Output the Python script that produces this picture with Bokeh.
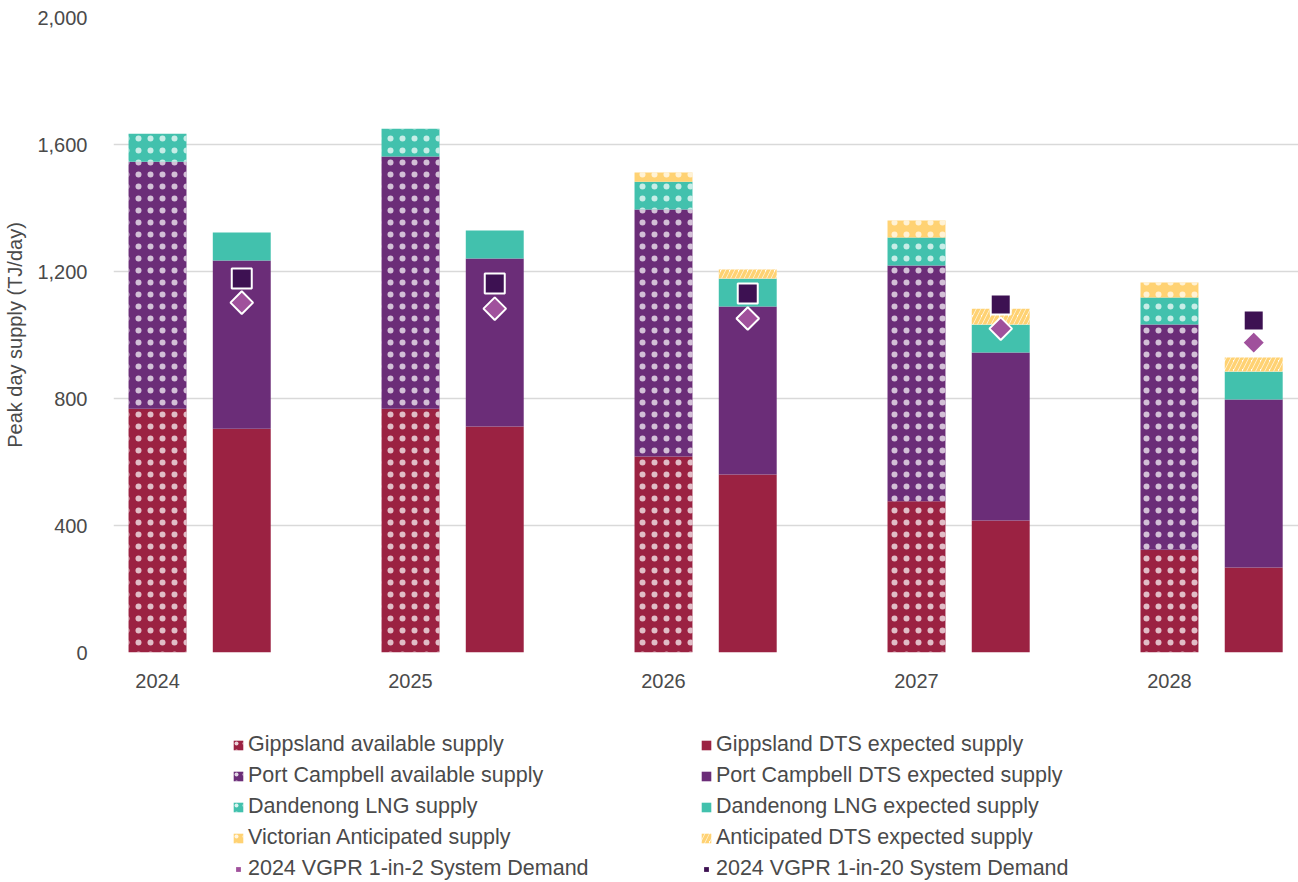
import numpy as np
from bokeh.plotting import figure
from bokeh.layouts import column
from bokeh.models import (Range1d, FixedTicker, Legend, LegendItem,
                          NumeralTickFormatter, ColumnDataSource)
from bokeh.embed import file_html
from bokeh.resources import INLINE

# ---------------- data ----------------
years = ["2024", "2025", "2026", "2027", "2028"]
gipps_avail = [768, 768, 617, 476, 324]
pc_avail = [778, 794, 778, 743, 709]
lng_avail = [88, 88, 88, 88, 85]
antic_avail = [0, 0, 29, 54, 47]
gipps_exp = [705, 712, 561, 416, 268]
pc_exp = [530, 529, 529, 529, 529]
lng_exp = [88, 88, 88, 88, 88]
antic_exp = [0, 0, 28, 50, 44]
demand_1in2 = [1102, 1083, 1052, 1020, 976]
demand_1in20 = [1178, 1162, 1131, 1096, 1046]
y_ticks = [0, 400, 800, 1200, 1600, 2000]

# ---------------- style ----------------
C_GIPPS = "#9B2242"
C_PC = "#6B2D78"
C_LNG = "#42C1AD"
C_ANTIC = "#FFD273"
C_D2 = "#A0519C"
C_D20 = "#3D1152"
FONT = "Liberation Sans"
TXT = "#4A4A4A"

idx = np.arange(len(years))
x_av = idx.astype(float)
x_ex = idx + 0.333
W = 0.229

dot = dict(hatch_pattern="dot", hatch_color="white", hatch_scale=12,
           hatch_weight=1, hatch_alpha=0.7)
stripe = dict(fill_color="white", hatch_pattern="right_diagonal_line",
              hatch_scale=9, hatch_weight=3.5)

MAIN_H = 720
p = figure(width=1298, height=MAIN_H, output_backend="svg", toolbar_location=None,
           x_range=Range1d(-0.174, 4.51), y_range=Range1d(0, 2000),
           min_border_left=113, min_border_right=0, min_border_top=17,
           min_border_bottom=MAIN_H - 652)
p.outline_line_color = None
p.background_fill_color = "white"
p.border_fill_color = "white"


def stack(series_list):
    bottoms = []
    cur = np.zeros(len(years))
    for s in series_list:
        bottoms.append(cur.copy())
        cur = cur + np.array(s, dtype=float)
    return bottoms


av_series = [gipps_avail, pc_avail, lng_avail, antic_avail]
ex_series = [gipps_exp, pc_exp, lng_exp, antic_exp]
av_b = stack(av_series)
ex_b = stack(ex_series)
colors = [C_GIPPS, C_PC, C_LNG, C_ANTIC]

for s, b, c in zip(av_series, av_b, colors):
    src = ColumnDataSource(dict(x=x_av, bottom=b, top=b + np.array(s)))
    p.vbar(x="x", width=W, bottom="bottom", top="top", source=src,
           fill_color=c, line_color=None, **dot)

for k, (s, b, c) in enumerate(zip(ex_series, ex_b, colors)):
    src = ColumnDataSource(dict(x=x_ex, bottom=b, top=b + np.array(s)))
    if k == 3:
        p.vbar(x="x", width=W, bottom="bottom", top="top", source=src,
               line_color=None, hatch_color=c, **stripe)
    else:
        p.vbar(x="x", width=W, bottom="bottom", top="top", source=src,
               fill_color=c, line_color=None)

src_d = ColumnDataSource(dict(x=x_ex, d2=demand_1in2, d20=demand_1in20))
p.scatter(x="x", y="d20", source=src_d, marker="square", size=20,
          fill_color=C_D20, line_color="white", line_width=2)
p.scatter(x="x", y="d2", source=src_d, marker="square", size=16,
          angle=np.pi / 4, fill_color=C_D2, line_color="white", line_width=2)

# ---------------- axes ----------------
p.xaxis.ticker = FixedTicker(ticks=list(x_av))
p.xaxis.major_label_overrides = {float(i): y for i, y in zip(x_av, years)}
p.xaxis.axis_line_color = None
p.xaxis.major_tick_line_color = None
p.xaxis.minor_tick_line_color = None
p.xaxis.major_label_standoff = 15
p.xaxis.major_label_text_font = FONT
p.xaxis.major_label_text_font_size = "20px"
p.xaxis.major_label_text_color = TXT

p.yaxis.ticker = FixedTicker(ticks=y_ticks)
p.yaxis.formatter = NumeralTickFormatter(format="0,0")
p.yaxis.axis_line_color = None
p.yaxis.major_tick_line_color = None
p.yaxis.minor_tick_line_color = None
p.yaxis.major_label_standoff = 20
p.yaxis.major_label_text_font = FONT
p.yaxis.major_label_text_font_size = "20px"
p.yaxis.major_label_text_color = TXT
p.yaxis.axis_label = "Peak day supply (TJ/day)"
p.yaxis.axis_label_text_font = FONT
p.yaxis.axis_label_text_font_size = "20px"
p.yaxis.axis_label_text_font_style = "normal"
p.yaxis.axis_label_text_color = TXT
p.yaxis.axis_label_standoff = 8

p.xgrid.grid_line_color = None
p.ygrid.grid_line_color = "#D9D9D9"
p.ygrid.grid_line_width = 1.5

# ---------------- legend panel (second figure, legend proxies) ----------------
LEG_H = 882 - MAIN_H
q = figure(width=1298, height=LEG_H, output_backend="svg", toolbar_location=None,
           x_range=Range1d(0, 1), y_range=Range1d(0, 1),
           min_border_left=0, min_border_right=0, min_border_top=0,
           min_border_bottom=0)
q.axis.visible = False
q.grid.visible = False
q.outline_line_color = None
q.background_fill_color = "white"
q.border_fill_color = "white"

# proxies sit outside the visible range, they only feed the legend
off = dict(x=[5.0], bottom=[5.0], top=[6.0])
lg_av = [q.vbar(x="x", width=1, bottom="bottom", top="top",
                source=ColumnDataSource(dict(off)), fill_color=c,
                line_color=None, hatch_pattern="dot", hatch_color="white",
                hatch_scale=8, hatch_alpha=0.8) for c in colors]
lg_ex = []
for k, c in enumerate(colors):
    if k == 3:
        r = q.vbar(x="x", width=1, bottom="bottom", top="top",
                   source=ColumnDataSource(dict(off)), line_color=None,
                   hatch_color=c, **stripe)
    else:
        r = q.vbar(x="x", width=1, bottom="bottom", top="top",
                   source=ColumnDataSource(dict(off)), fill_color=c,
                   line_color=None)
    lg_ex.append(r)
lg_d2 = q.scatter(x=[5.0], y=[5.0], marker="square", size=10, angle=np.pi / 4,
                  fill_color=C_D2, line_color=None)
lg_d20 = q.scatter(x=[5.0], y=[5.0], marker="square", size=12,
                   fill_color=C_D20, line_color=None)

left_labels = ["Gippsland available supply", "Port Campbell available supply",
               "Dandenong LNG supply", "Victorian Anticipated supply",
               "2024 VGPR 1-in-2 System Demand"]
right_labels = ["Gippsland DTS expected supply",
                "Port Campbell DTS expected supply",
                "Dandenong LNG expected supply",
                "Anticipated DTS expected supply",
                "2024 VGPR 1-in-20 System Demand"]

left_items = [LegendItem(label=l, renderers=[r])
              for l, r in zip(left_labels, lg_av + [lg_d2])]
right_items = [LegendItem(label=l, renderers=[r])
               for l, r in zip(right_labels, lg_ex + [lg_d20])]


def make_legend(items, loc):
    return Legend(items=items, location=loc, orientation="vertical",
                  label_text_font=FONT, label_text_font_size="21.5px",
                  label_text_color=TXT, glyph_width=12, glyph_height=12,
                  label_standoff=4, label_height=20, spacing=6,
                  padding=0, margin=0, border_line_color=None,
                  background_fill_alpha=0)


q.add_layout(make_legend(left_items, (119, 1)), "center")
q.add_layout(make_legend(right_items, (587, 1)), "center")

open("out.html", "w").write(file_html(column(p, q, spacing=0), INLINE))
